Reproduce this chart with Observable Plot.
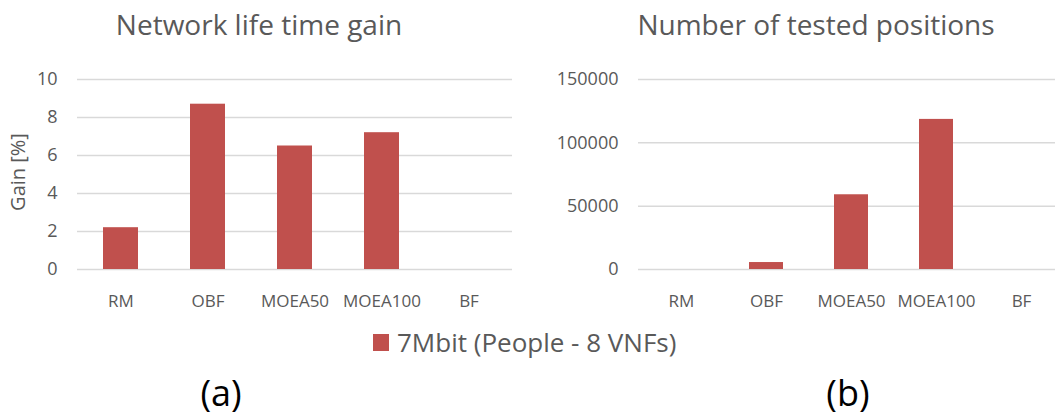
<!DOCTYPE html>
<html>
<head>
<meta charset="utf-8">
<script src="https://cdn.jsdelivr.net/npm/d3@7"></script>
<script src="https://cdn.jsdelivr.net/npm/@observablehq/plot@0.6"></script>
<style>
  html, body { margin: 0; padding: 0; background: #fff; }
  #wrap { position: relative; width: 1055px; height: 416px; overflow: hidden; font-family: "Open Sans", sans-serif; color: #595959; }
  .abs { position: absolute; white-space: nowrap; }
  .title { font-size: 28px; top: 5px; transform: translateX(-50%); }
  .sub { font-size: 36px; line-height: 36px; color: #000; top: 375px; transform: translateX(-50%); }
  #legend { top: 324px; left: 373px; font-size: 26px; display: flex; align-items: center; }
  #legend .sw { width: 16px; height: 17px; background: #C0504D; margin-right: 8px; }
  .plot { position: absolute; top: 0; }
  .plot svg { max-width: none !important; }
  #ylab { font-size: 20px; left: 17px; top: 172px; transform: translate(-50%, -50%) rotate(-90deg); }
</style>
</head>
<body>
<div id="wrap">
  <div class="abs title" style="left:259px">Network life time gain</div>
  <div class="abs title" style="left:816px">Number of tested positions</div>
  <div id="left" class="plot" style="left:0px; width:530px"></div>
  <div id="right" class="plot" style="left:530px; width:535px"></div>
  <div id="ylab" class="abs">Gain [%]</div>
  <div id="legend" class="abs"><span class="sw"></span><span>7Mbit (People - 8 VNFs)</span></div>
  <div class="abs sub" style="left:221px">(a)</div>
  <div class="abs sub" style="left:848px">(b)</div>
</div>
<script>
const categories = ["RM", "OBF", "MOEA50", "MOEA100", "BF"];
const gainValues = [2.2, 8.7, 6.5, 7.2, 0];
const positionValues = [0, 5500, 59000, 118500, 0];
const gainTicks = [0, 2, 4, 6, 8, 10];
const positionTicks = [0, 50000, 100000, 150000];

const barColor = "#C0504D";
const gridColor = "#d9d9d9";
const textColor = "#595959";

function makeChart(values, ticks, opts) {
  const data = categories.map((c, i) => ({cat: c, v: values[i]}));
  return Plot.plot({
    width: opts.width,
    height: 320,
    marginLeft: opts.marginLeft,
    marginRight: opts.marginRight,
    marginTop: 79,
    marginBottom: 51,
    style: {color: textColor, background: "transparent", fontFamily: "'Open Sans', sans-serif", fontSize: "17px", overflow: "visible", maxWidth: "none"},
    x: {domain: categories, paddingInner: 0.6, paddingOuter: 0.3, label: null},
    y: {domain: [ticks[0], ticks[ticks.length - 1]], label: null},
    marks: [
      Plot.ruleY(ticks, {stroke: gridColor, strokeWidth: 1.5}),
      Plot.barY(data, {x: "cat", y: "v", fill: barColor}),
      Plot.axisX({tickSize: 0, tickPadding: 25, fontSize: 17, label: null}),
      Plot.axisY({ticks: ticks, tickSize: 0, tickPadding: 20, fontSize: 18, tickFormat: d => String(d), label: null})
    ]
  });
}

document.getElementById("left").append(makeChart(gainValues, gainTicks, {width: 530, marginLeft: 77, marginRight: 18}));
document.getElementById("right").append(makeChart(positionValues, positionTicks, {width: 535, marginLeft: 108, marginRight: 0}));
</script>
</body>
</html>
